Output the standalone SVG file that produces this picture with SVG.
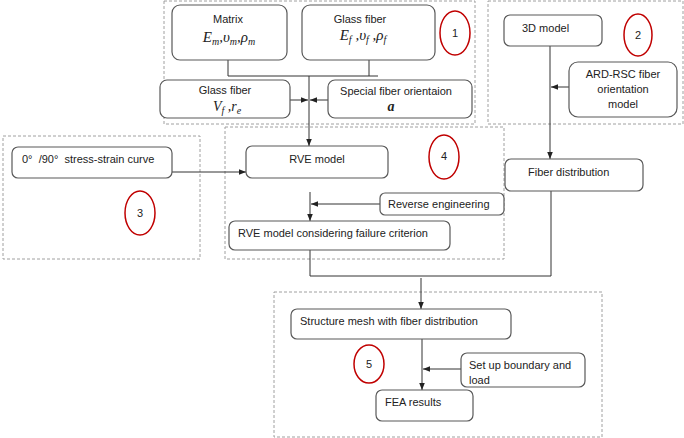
<svg xmlns="http://www.w3.org/2000/svg" width="684" height="438" viewBox="0 0 684 438">
<defs>
<marker id="ah" viewBox="0 0 8 8" refX="8" refY="4" markerWidth="7" markerHeight="7" markerUnits="userSpaceOnUse" orient="auto">
<path d="M0,0.8 L8,4 L0,7.2 Z" fill="#222"/>
</marker>
<style>
.grp{fill:none;stroke:#a0a0a0;stroke-width:1;stroke-dasharray:3 2}
.box{fill:#fff;stroke:#595959;stroke-width:1.2}
.t{font-family:"Liberation Sans",Arial,sans-serif;font-size:11px;fill:#222}
.m{font-family:"Liberation Serif","Times New Roman",serif;font-style:italic;font-size:15px;fill:#222}
.s{font-size:10px}
.ell{fill:none;stroke:#c00000;stroke-width:1.5}
.c{fill:none;stroke:#333;stroke-width:1}
.a{fill:none;stroke:#333;stroke-width:1;marker-end:url(#ah)}
</style>
</defs>
<rect width="684" height="438" fill="#fff"/>

<g id="groups">
<rect class="grp" x="164" y="1" width="311" height="123"/>
<rect class="grp" x="488" y="1" width="195" height="123"/>
<rect class="grp" x="3" y="136" width="197" height="123"/>
<rect class="grp" x="225" y="127" width="279" height="132"/>
<rect class="grp" x="274" y="292" width="328" height="145"/>
</g>

<g id="connectors">
<path class="c" d="M228,60 V76 H378 M369,60 V76"/>
<path class="a" d="M309,76 V146"/>
<path class="a" d="M290,100 H308"/>
<path class="a" d="M328,100 H310"/>
<path class="a" d="M550,46 V159"/>
<path class="a" d="M569,87 H551"/>
<path class="a" d="M172,172 H246"/>
<path class="a" d="M310,192 V221"/>
<path class="a" d="M380,204 H311"/>
<path class="c" d="M310,250 V276 H551 V191"/>
<path class="a" d="M421,278 V309"/>
<path class="a" d="M422,339 V390"/>
<path class="a" d="M461,369 H423"/>
</g>

<g id="matrix">
<rect class="box" x="172" y="5" width="115" height="55" rx="8"/>
<text class="t" x="228" y="23" text-anchor="middle">Matrix</text>
<text class="m" x="229" y="42" text-anchor="middle">E<tspan class="s" dy="3">m</tspan><tspan dy="-3">,υ</tspan><tspan class="s" dy="3">m</tspan><tspan dy="-3">,ρ</tspan><tspan class="s" dy="3">m</tspan></text>
</g>

<g id="glassfiber1">
<rect class="box" x="302" y="5" width="133" height="55" rx="8"/>
<text class="t" x="360" y="23" text-anchor="middle">Glass fiber</text>
<text class="m" x="363" y="40" text-anchor="middle">E<tspan class="s" dy="3">f</tspan><tspan dy="-3"> ,υ</tspan><tspan class="s" dy="3">f</tspan><tspan dy="-3"> ,ρ</tspan><tspan class="s" dy="3">f</tspan></text>
</g>

<g id="label1">
<ellipse class="ell" cx="455" cy="33" rx="15" ry="22"/>
<text class="t" x="455" y="37" text-anchor="middle">1</text>
</g>

<g id="glassfiber2">
<rect class="box" x="160" y="80" width="130" height="38" rx="7"/>
<text class="t" x="225" y="94" text-anchor="middle">Glass fiber</text>
<text class="m" x="227" y="111" text-anchor="middle" style="font-size:14px">V<tspan class="s" dy="3">f</tspan><tspan dy="-3"> ,r</tspan><tspan class="s" dy="3">e</tspan></text>
</g>

<g id="orientation">
<rect class="box" x="328" y="80" width="144" height="38" rx="7"/>
<text class="t" x="396" y="95" text-anchor="middle">Special fiber orientaion</text>
<text class="m" x="391" y="111" text-anchor="middle" font-weight="bold" style="font-size:14px">a</text>
</g>

<g id="model3d">
<rect class="box" x="504" y="15" width="98" height="31" rx="6"/>
<text class="t" x="522" y="32">3D model</text>
</g>

<g id="label2">
<ellipse class="ell" cx="638" cy="35" rx="14" ry="21"/>
<text class="t" x="638" y="39" text-anchor="middle">2</text>
</g>

<g id="ardrsc">
<rect class="box" x="569" y="62" width="108" height="55" rx="9"/>
<text class="t" x="623" y="78" text-anchor="middle">ARD-RSC fiber</text>
<text class="t" x="623" y="93" text-anchor="middle">orientation</text>
<text class="t" x="623" y="108" text-anchor="middle">model</text>
</g>

<g id="fiberdist">
<rect class="box" x="505" y="159" width="138" height="32" rx="6"/>
<text class="t" x="528" y="176">Fiber distribution</text>
</g>

<g id="stressstrain">
<rect class="box" x="12" y="147" width="160" height="31" rx="6"/>
<text class="t" x="22" y="163" style="white-space:pre">0°  /90°  stress-strain curve</text>
</g>

<g id="label3">
<ellipse class="ell" cx="140" cy="213" rx="15" ry="22"/>
<text class="t" x="140" y="217" text-anchor="middle">3</text>
</g>

<g id="rve">
<rect class="box" x="246" y="146" width="142" height="32" rx="6"/>
<text class="t" x="317" y="163" text-anchor="middle">RVE model</text>
</g>

<g id="label4">
<ellipse class="ell" cx="444" cy="157" rx="15" ry="22"/>
<text class="t" x="444" y="160" text-anchor="middle">4</text>
</g>

<g id="reverse">
<rect class="box" x="380" y="193" width="124" height="22" rx="5"/>
<text class="t" x="388" y="208">Reverse engineering</text>
</g>

<g id="rvefailure">
<rect class="box" x="229" y="221" width="221" height="29" rx="6"/>
<text class="t" x="238" y="237">RVE model considering failure criterion</text>
</g>

<g id="mesh">
<rect class="box" x="291" y="309" width="220" height="30" rx="6"/>
<text class="t" x="300" y="325">Structure mesh with fiber distribution</text>
</g>

<g id="label5">
<ellipse class="ell" cx="369" cy="364" rx="15" ry="19"/>
<text class="t" x="369" y="368" text-anchor="middle">5</text>
</g>

<g id="boundary">
<rect class="box" x="461" y="353" width="124" height="34" rx="6"/>
<text class="t" x="469" y="369">Set up boundary and</text>
<text class="t" x="469" y="384">load</text>
</g>

<g id="fea">
<rect class="box" x="376" y="390" width="97" height="31" rx="6"/>
<text class="t" x="385" y="406">FEA results</text>
</g>
</svg>
